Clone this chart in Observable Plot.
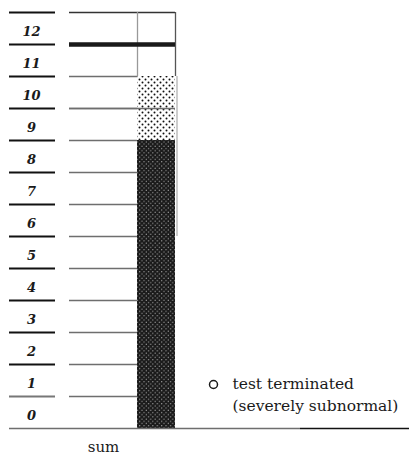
<!DOCTYPE html>
<html>
<head>
<meta charset="utf-8">
<script src="https://cdn.jsdelivr.net/npm/d3@7"></script>
<script src="https://cdn.jsdelivr.net/npm/@observablehq/plot@0.6"></script>
<style>
  html, body { margin: 0; padding: 0; background: #fff; }
</style>
</head>
<body>
<div id="chart"></div>
<script>
// ---- data ----
const levels = [0, 1, 2, 3, 4, 5, 6, 7, 8, 9, 10, 11, 12];
const levelTicks = [1, 2, 3, 4, 5, 6, 7, 8, 9, 10, 11, 12, 13];
const segmentFrom = [0, 9];
const segmentTo = [9, 11];
const segmentKind = ["dark", "light"];
const innerLines = [10];
const terminatedLevel = [12];
const scaleTop = 13;
const columnLabel = ["sum"];
const legendLines = ["test terminated", "(severely subnormal)"];

// ---- layout (pixel constants) ----
const W = 409, H = 457;
const LAB_X1 = 9, LAB_X2 = 55, LAB_CX = 31;
const GRID_X1 = 69, BAR_X1 = 137, BAR_X2 = 175;
const serif = "'DejaVu Serif', serif";

const segments = segmentFrom.map((f, i) => ({from: f, to: segmentTo[i], kind: segmentKind[i]}));

const chart = Plot.plot({
  width: W,
  height: H,
  marginTop: 12,
  marginBottom: 29,
  marginLeft: 0,
  marginRight: 0,
  x: {type: "linear", domain: [0, W], axis: null},
  y: {domain: [0, scaleTop], axis: null},
  style: {fontFamily: serif, background: "#fff"},
  marks: [
    Plot.ruleY(levelTicks.filter(v => v < scaleTop - 1), {y: d => d, x1: GRID_X1, x2: BAR_X1, stroke: "#6e6e6e", strokeWidth: 1.6}),
    Plot.rectY(segments, {x1: BAR_X1, x2: BAR_X2, y1: "from", y2: "to",
      fill: d => d.kind === "dark" ? "url(#pDark)" : "url(#pLight)"}),
    Plot.ruleX([BAR_X2 + 1.5], {x: d => d, y1: 6, y2: segmentTo[1], stroke: "#bdbdbd", strokeWidth: 1.5}),
    Plot.ruleY(innerLines, {y: d => d, x1: GRID_X1, x2: BAR_X2, stroke: "#6e6e6e", strokeWidth: 1.6}),
    Plot.ruleY([scaleTop], {y: d => d, x1: GRID_X1, x2: BAR_X2, stroke: "#333", strokeWidth: 1.6}),
    Plot.ruleX([BAR_X1], {x: d => d, y1: segmentTo[1], y2: scaleTop, stroke: "#999", strokeWidth: 1.3}),
    Plot.ruleX([BAR_X2], {x: d => d, y1: segmentTo[1], y2: scaleTop, stroke: "#555", strokeWidth: 1.3}),
    Plot.ruleY(terminatedLevel, {y: d => d, x1: GRID_X1, x2: BAR_X2, stroke: "#1a1a1a", strokeWidth: 4.5}),
    Plot.ruleY(levelTicks, {y: d => d, x1: LAB_X1, x2: LAB_X2,
      stroke: d => d === 1 ? "#777" : "#111", strokeWidth: 2}),
    Plot.ruleY([0], {y: d => d, x1: LAB_X1, x2: 300, stroke: "#6e6e6e", strokeWidth: 1.6}),
    Plot.ruleY([0], {y: d => d, x1: 300, x2: W, stroke: "#111", strokeWidth: 1.6}),
    Plot.text(levels, {x: LAB_CX, y: d => d + 0.5, text: d => String(d), dy: 3,
      fontSize: 13, fontStyle: "italic", fontWeight: "bold", fill: "#1a1a1a"}),
    Plot.text(columnLabel, {x: (BAR_X1 + GRID_X1) / 2, y: 0, text: d => d, dy: 19, fontSize: 15, fill: "#1a1a1a"}),
    Plot.dot([legendLines[0]], {x: 213, y: 1.375, r: 4, stroke: "#1a1a1a", strokeWidth: 1.5, fill: "none"}),
    Plot.text(legendLines, {x: 232, y: (d, i) => i === 0 ? 1.375 : 0.69, text: d => d,
      textAnchor: "start", fontSize: 15.5, fill: "#1a1a1a"})
  ],
  color: {type: "identity"}
});

const ns = "http://www.w3.org/2000/svg";
const defs = document.createElementNS(ns, "defs");
defs.innerHTML = `
  <pattern id="pDark" patternUnits="userSpaceOnUse" width="4.4" height="4.4">
    <rect width="4.4" height="4.4" fill="#1a1a1a"/>
    <circle cx="1.1" cy="1.1" r="0.6" fill="#b5b5b5"/>
    <circle cx="3.3" cy="3.3" r="0.6" fill="#b5b5b5"/>
  </pattern>
  <pattern id="pLight" patternUnits="userSpaceOnUse" width="6" height="6">
    <rect width="6" height="6" fill="#fff"/>
    <circle cx="1.5" cy="1.5" r="1" fill="#111"/>
    <circle cx="4.5" cy="4.5" r="1" fill="#111"/>
  </pattern>`;
chart.insertBefore(defs, chart.firstChild);
document.getElementById("chart").appendChild(chart);
</script>
</body>
</html>
